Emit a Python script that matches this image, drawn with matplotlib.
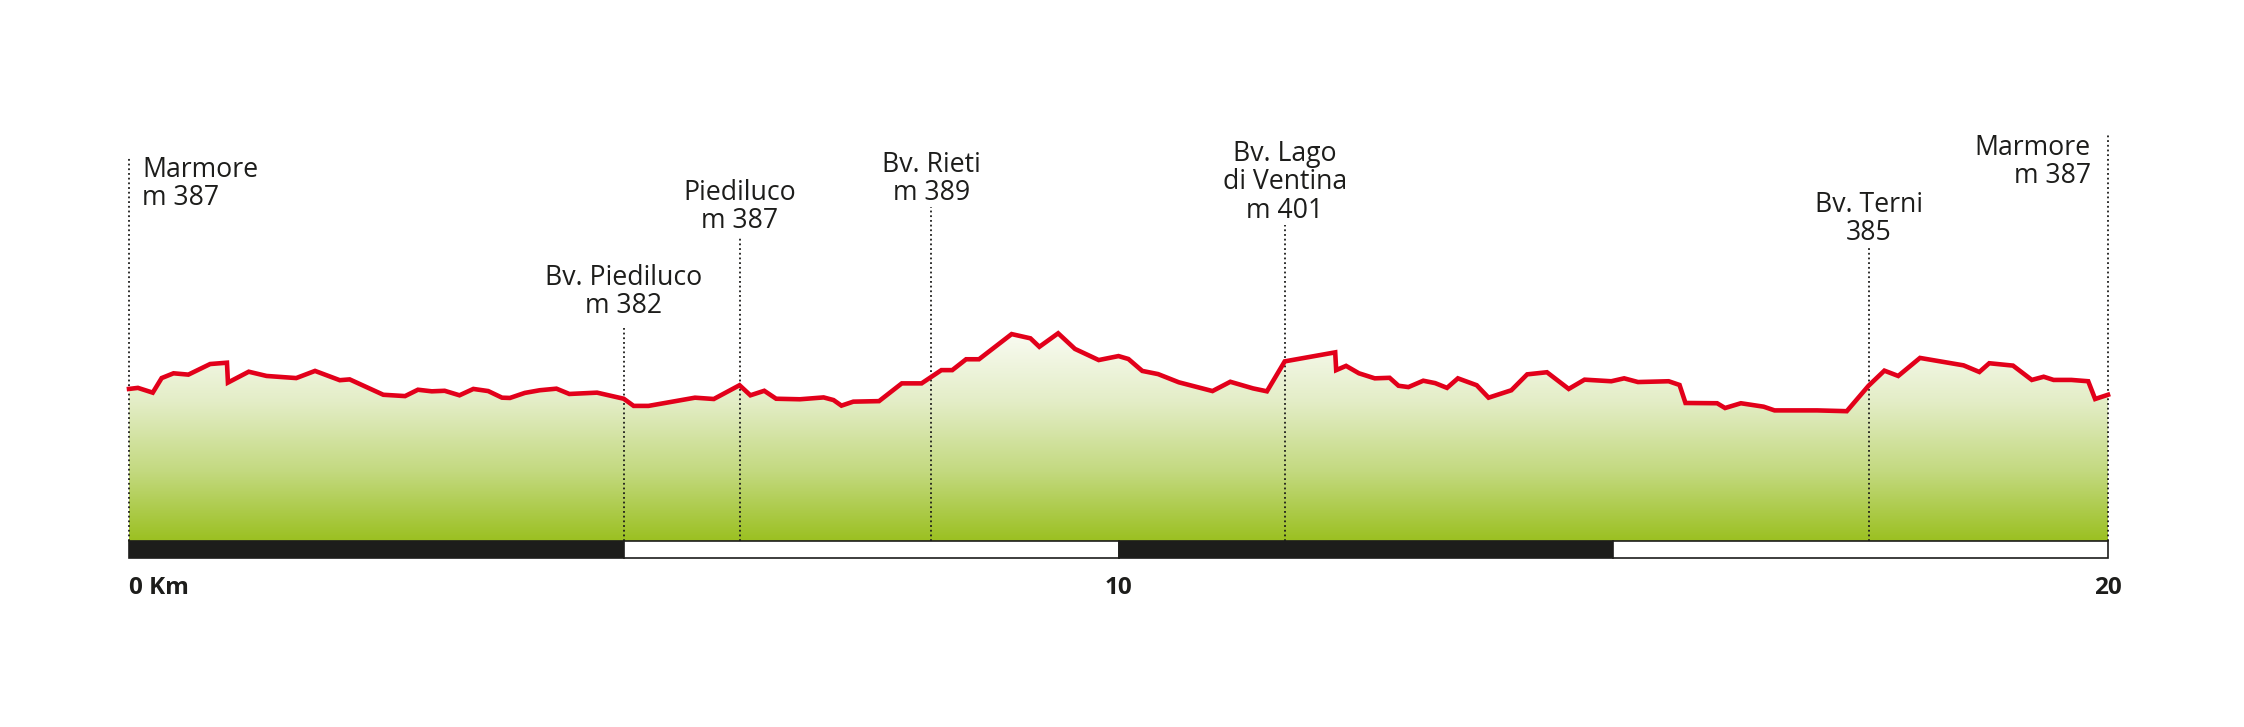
import numpy as np
import matplotlib.pyplot as plt
from matplotlib.colors import LinearSegmentedColormap
from matplotlib.patches import Rectangle, Polygon

plt.rcParams['font.family'] = ['Open Sans', 'DejaVu Sans']

# Elevation profile (km, m)
km = [0.00, 0.09, 0.24, 0.33, 0.45, 0.60, 0.82, 0.99, 1.00, 1.21, 1.39, 1.69, 1.88,
      2.13, 2.23, 2.57, 2.79, 2.92, 3.06, 3.19, 3.34, 3.48, 3.63, 3.77, 3.85, 4.00,
      4.15, 4.32, 4.45, 4.73, 5.00, 5.10, 5.25, 5.72, 5.91, 6.17, 6.28, 6.42, 6.54,
      6.78, 7.02, 7.12, 7.20, 7.32, 7.58, 7.81, 8.01, 8.21, 8.32, 8.46, 8.59, 8.92,
      9.11, 9.20, 9.39, 9.56, 9.80, 10.00, 10.10, 10.24, 10.40, 10.61, 10.95, 11.13,
      11.36, 11.50, 11.68, 12.19, 12.20, 12.30, 12.43, 12.59, 12.74, 12.83, 12.93,
      13.08, 13.20, 13.32, 13.43, 13.62, 13.74, 13.97, 14.13, 14.33, 14.55, 14.71,
      14.98, 15.11, 15.25, 15.56, 15.67, 15.73, 16.05, 16.13, 16.29, 16.52, 16.63,
      17.06, 17.36, 17.58, 17.74, 17.88, 18.10, 18.54, 18.70, 18.80, 19.04, 19.23,
      19.35, 19.45, 19.63, 19.80, 19.87, 20.00]
elev = [387.1, 387.5, 385.7, 391.2, 393.0, 392.5, 396.5, 397.0, 389.5, 393.6, 392.0,
        391.2, 393.9, 390.4, 390.7, 384.9, 384.4, 386.8, 386.2, 386.4, 384.7, 387.1,
        386.3, 383.8, 383.7, 385.6, 386.6, 387.2, 385.2, 385.7, 383.4, 380.7, 380.7,
        383.8, 383.3, 388.5, 384.7, 386.4, 383.4, 383.2, 383.9, 382.9, 380.8, 382.3,
        382.5, 389.2, 389.2, 394.2, 394.2, 398.3, 398.3, 407.8, 406.2, 403.0, 408.1,
        402.2, 398.0, 399.5, 398.4, 393.9, 392.7, 389.6, 386.3, 389.8, 387.3, 386.2,
        397.5, 400.9, 394.2, 395.8, 393.0, 391.1, 391.3, 388.3, 387.8, 390.2, 389.3,
        387.5, 391.1, 388.5, 383.8, 386.6, 392.6, 393.4, 387.1, 390.6, 390.0, 391.1,
        389.7, 390.0, 388.6, 381.8, 381.7, 379.9, 381.7, 380.4, 379.0, 379.0, 378.7,
        388.3, 394.0, 392.0, 398.8, 396.0, 393.5, 396.8, 395.9, 390.5, 391.7, 390.5,
        390.5, 390.0, 383.3, 384.9]

# Waypoints
point_km = [0.0, 5.0, 6.17, 8.11, 11.68, 17.58, 20.0]
point_labels = [["Marmore", "m 387"],
                ["Bv. Piediluco", "m 382"],
                ["Piediluco", "m 387"],
                ["Bv. Rieti", "m 389"],
                ["Bv. Lago", "di Ventina", "m 401"],
                ["Bv. Terni", "385"],
                ["Marmore", "m 387"]]

# Distance scale
scale_edges = [0, 5, 10, 15, 20]
tick_km = [0, 10, 20]
tick_labels = ["0 Km", "10", "20"]

# ---- layout (pixel geometry of the 2244x727 image) ----
W, H = 2244, 727
X0, PX_KM = 129, 98.95
Y_REF_PX, Y_REF_M, M_PER_PX = 389.2, 387.0, 0.3774


def px(x):
    return (x - X0) / PX_KM


def py(y):
    return Y_REF_M + (Y_REF_PX - y) * M_PER_PX


base = py(540.7)
bar_bottom = py(557.7)
leader_top = [157, 328, 237, 207, 225, 247, 133]
first_baseline = [177, 285, 200, 172, 161, 212, 155]
line_step = 28.3
aligns = ['left', 'center', 'center', 'center', 'center', 'center', 'right']
label_x = [px(142), None, None, None, None, None, px(2091)]

ink = '#1d1d1b'
red = '#e2001a'

fig = plt.figure(figsize=(W / 100, H / 100), dpi=100)
ax = fig.add_axes([0, 0, 1, 1])
ax.set_xlim(px(0), px(W))
ax.set_ylim(py(H), py(0))
ax.axis('off')

# Green gradient under the profile
cmap = LinearSegmentedColormap.from_list(
    'hill', ['#9bc021', '#c3d97f', '#e3edc6', '#f9fbf2'])
top = max(elev)
im = ax.imshow(np.linspace(0, 1, 256).reshape(-1, 1), extent=[0, 20, base, top],
               origin='lower', cmap=cmap, aspect='auto', zorder=1)
verts = [(km[0], base)] + list(zip(km, elev)) + [(km[-1], base)]
area = Polygon(verts, closed=True, facecolor='none', edgecolor='none')
ax.add_patch(area)
im.set_clip_path(area)
ax.plot([0, 20], [base, base], color='#8fb31c', lw=1.2, zorder=2)

# Leader lines
for k, t in zip(point_km, leader_top):
    ax.plot([k, k], [base, py(t)], color=ink, lw=1.3,
            linestyle=(0, (1, 1.6)), zorder=3)

# Profile line
ax.plot(km, elev, color=red, lw=3.3, solid_joinstyle='miter', zorder=4)

# Waypoint labels
for i, lines in enumerate(point_labels):
    x = label_x[i] if label_x[i] is not None else point_km[i]
    for j, s in enumerate(lines):
        ax.text(x, py(first_baseline[i] + j * line_step), s, ha=aligns[i],
                va='baseline', fontsize=19.2, color=ink, zorder=6)

# Scale bar
for i in range(len(scale_edges) - 1):
    fc = ink if i % 2 == 0 else 'white'
    ax.add_patch(Rectangle((scale_edges[i], bar_bottom),
                           scale_edges[i + 1] - scale_edges[i], base - bar_bottom,
                           facecolor=fc, edgecolor=ink, lw=1.2, zorder=5))

for k, s in zip(tick_km, tick_labels):
    ax.text(k, py(594), s, ha='left' if k == 0 else 'center', va='baseline',
            fontsize=17.5, fontweight='bold', color=ink)

fig.savefig('out.png', dpi=100, facecolor='white')
